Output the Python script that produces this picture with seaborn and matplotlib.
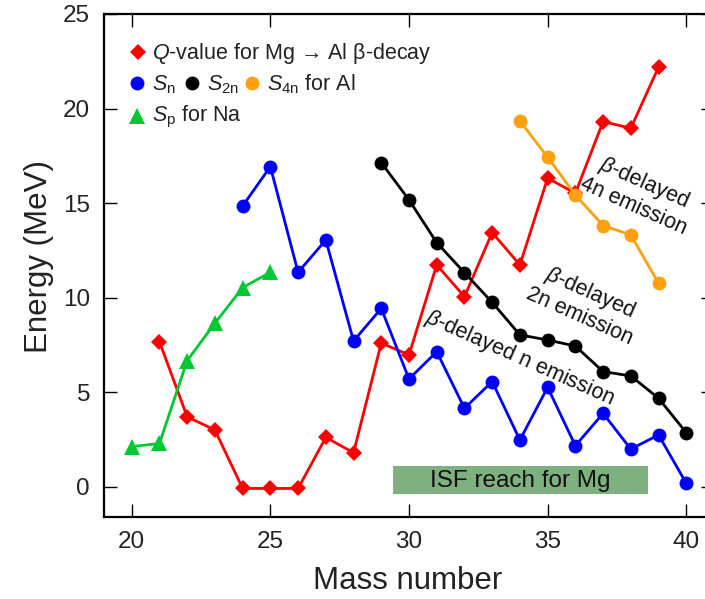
import matplotlib
matplotlib.use("Agg")
import matplotlib.pyplot as plt
import seaborn as sns
import pandas as pd
from matplotlib.patches import Rectangle

# ---- data ----
q_mass = [21, 22, 23, 24, 25, 26, 27, 28, 29, 30, 31, 32, 33, 34, 35, 36, 37, 38, 39]
q_value = [7.67, 3.70, 3.00, -0.09, -0.09, -0.09, 2.61, 1.80, 7.60, 6.97, 11.73, 10.05,
           13.44, 11.73, 16.32, 15.52, 19.31, 18.96, 22.19]

sn_mass = [24, 25, 26, 27, 28, 29, 30, 31, 32, 33, 34, 35, 36, 37, 38, 39, 40]
sn_value = [14.85, 16.93, 11.34, 13.05, 7.71, 9.43, 5.70, 7.14, 4.15, 5.56, 2.47, 5.26,
            2.17, 3.88, 1.99, 2.74, 0.18]

s2n_mass = [29, 30, 31, 32, 33, 34, 35, 36, 37, 38, 39, 40]
s2n_value = [17.14, 15.17, 12.91, 11.32, 9.75, 8.03, 7.76, 7.44, 6.09, 5.86, 4.68, 2.86]

s4n_mass = [34, 35, 36, 37, 38, 39]
s4n_value = [19.35, 17.43, 15.43, 13.81, 13.32, 10.76]

sp_mass = [20, 21, 22, 23, 24, 25]
sp_value = [2.12, 2.29, 6.67, 8.65, 10.53, 11.34]

x_ticks = [20, 25, 30, 35, 40]
y_ticks = [0, 5, 10, 15, 20, 25]

isf_range = (29.43, 38.63)
isf_label = "ISF reach for Mg"

# ---- style ----
sns.set_theme(style="ticks")
plt.rcParams["font.family"] = ["Liberation Sans", "DejaVu Sans"]
plt.rcParams["mathtext.fontset"] = "custom"
plt.rcParams["mathtext.rm"] = "Liberation Sans"
plt.rcParams["mathtext.it"] = "Liberation Sans:italic"
plt.rcParams["mathtext.bf"] = "Liberation Sans:bold"

RED = "#ff0000"
BLUE = "#0000ff"
BLACK = "#000000"
ORANGE = "#ffa010"
GREEN = "#00c832"
RECT = "#7fb07f"

fig = plt.figure(figsize=(7.05, 5.99), dpi=100)
ax = fig.add_axes([104 / 705, 82 / 599, 610 / 705, 503 / 599])

lw = 2.0
MS_D, MS_O, MS_T = 8.3, 10, 12
common = dict(ax=ax, sort=False, linewidth=lw, markeredgewidth=0, legend=False)

sns.lineplot(x=q_mass, y=q_value, color=RED, marker="D", markersize=MS_D, **common)
sns.lineplot(x=sn_mass, y=sn_value, color=BLUE, marker="o", markersize=MS_O, **common)
sns.lineplot(x=s2n_mass, y=s2n_value, color=BLACK, marker="o", markersize=MS_O, **common)
sns.lineplot(x=s4n_mass, y=s4n_value, color=ORANGE, marker="o", markersize=MS_O, **common)
sns.lineplot(x=sp_mass, y=sp_value, color=GREEN, marker="^", markersize=MS_T, **common)

# ISF rectangle
ax.add_patch(Rectangle((isf_range[0], -0.40), isf_range[1] - isf_range[0], 1.50,
                       facecolor=RECT, edgecolor="none", zorder=1))
ax.text((isf_range[0] + isf_range[1]) / 2, 0.33, isf_label, ha="center", va="center",
        fontsize=17.5, color="#111111", zorder=2)

# annotations
ann_kw = dict(ha="center", va="center", rotation=-24, fontsize=15.5, color="#111111",
              linespacing=1.15, rotation_mode="anchor")
ax.text(38.3, 15.5, "$\\beta$-delayed\n4n emission", **ann_kw)
ax.text(36.35, 9.70, "$\\beta$-delayed\n2n emission", **ann_kw)
ax.text(34.0, 6.79, "$\\beta$-delayed n emission", **ann_kw)

# axes
ax.set_xlim(19, 41)
ax.set_ylim(-1.6, 25)
ax.set_xticks(x_ticks)
ax.set_yticks(y_ticks)
ax.tick_params(axis="both", which="major", direction="in", length=9.5, width=1.0,
               top=True, right=True, labelsize=17.5, pad=10, colors="black",
               labelcolor="#222222")
for s in ax.spines.values():
    s.set_linewidth(1.6)
    s.set_color("black")
    s.set_visible(True)
ax.set_xlabel("Mass number", fontsize=22.5, color="#222222")
ax.set_ylabel("Energy (MeV)", fontsize=22.5, color="#222222")
ax.xaxis.set_label_coords(0.498, -0.098)
ax.yaxis.set_label_coords(-0.082, 0.517)

# custom legend (axes coordinates)
leg_fs = 15.5
tr = ax.transAxes
ax.plot([0.0562], [0.9239], marker="D", markersize=MS_D, color=RED, mew=0,
        transform=tr, clip_on=False)
ax.text(0.0792, 0.9105, "$Q$-value for Mg \u2192 Al \u03b2-decay", transform=tr,
        fontsize=leg_fs, va="baseline", ha="left", color="#222222")

ax.plot([0.0536], [0.8622], marker="o", markersize=MS_O, color=BLUE, mew=0,
        transform=tr, clip_on=False)
ax.text(0.0792, 0.8475, "$S_\\mathrm{n}$", transform=tr, fontsize=leg_fs,
        va="baseline", ha="left", color="#222222")
ax.plot([0.1448], [0.8622], marker="o", markersize=MS_O, color=BLACK, mew=0,
        transform=tr, clip_on=False)
ax.text(0.1693, 0.8475, "$S_\\mathrm{2n}$", transform=tr, fontsize=leg_fs,
        va="baseline", ha="left", color="#222222")
ax.plot([0.2421], [0.8622], marker="o", markersize=MS_O, color=ORANGE, mew=0,
        transform=tr, clip_on=False)
ax.text(0.2667, 0.8475, "$S_\\mathrm{4n}$ for Al", transform=tr, fontsize=leg_fs,
        va="baseline", ha="left", color="#222222")

ax.plot([0.0546], [0.7978], marker="^", markersize=MS_T, color=GREEN, mew=0,
        transform=tr, clip_on=False)
ax.text(0.0792, 0.7859, "$S_\\mathrm{p}$ for Na", transform=tr, fontsize=leg_fs,
        va="baseline", ha="left", color="#222222")

fig.savefig("out.png", dpi=100)
